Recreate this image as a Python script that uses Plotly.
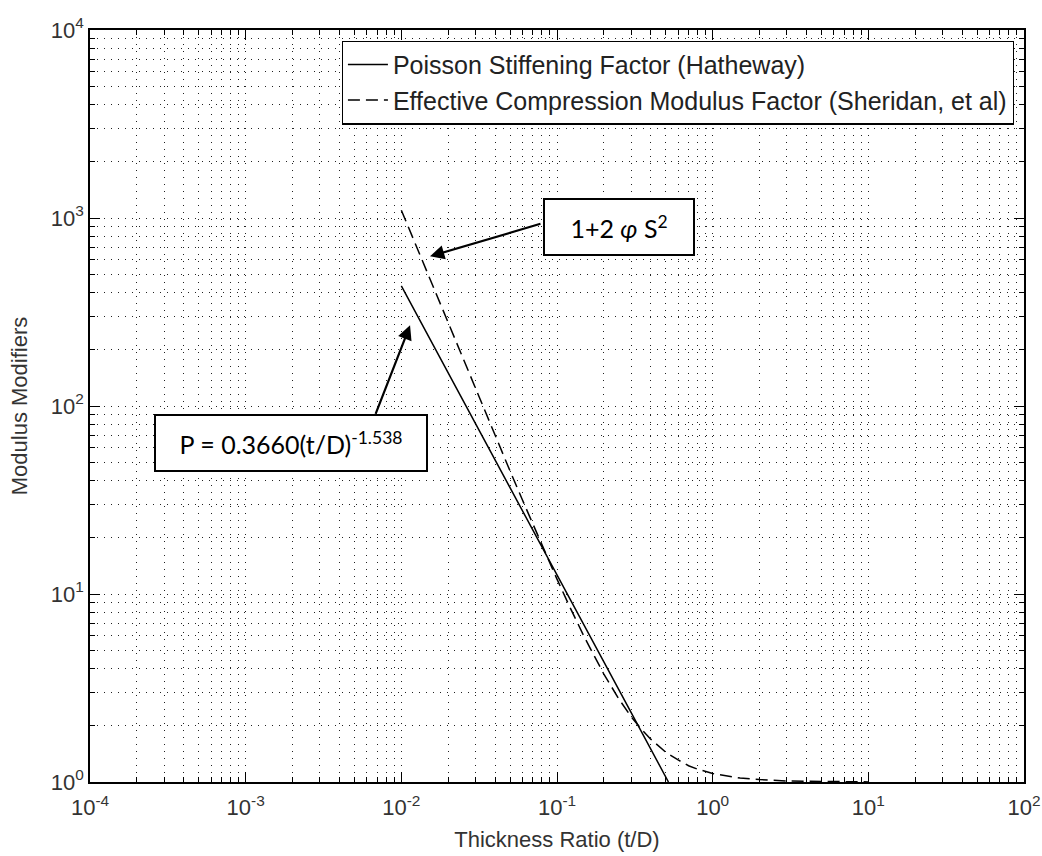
import plotly.graph_objects as go

# ---- data ----
td_poisson = [0.01, 0.012, 0.015, 0.02, 0.025, 0.03, 0.04, 0.05, 0.06, 0.08, 0.1,
              0.12, 0.15, 0.2, 0.25, 0.3, 0.35, 0.4, 0.45, 0.5, 0.52]
poisson_vals = [436, 329, 234, 150, 106, 80.5, 51.7, 36.7, 27.7, 17.8, 12.6,
                9.55, 6.77, 4.35, 3.09, 2.33, 1.84, 1.50, 1.25, 1.06, 1.0]

td_sheridan = [0.01, 0.012, 0.015, 0.02, 0.025, 0.03, 0.04, 0.05, 0.06, 0.08, 0.1,
               0.12, 0.15, 0.2, 0.25, 0.3, 0.35, 0.4, 0.5, 0.6, 0.7, 0.8, 1.0,
               1.5, 2, 3, 5, 7, 10]
sheridan_vals = [1100, 764, 490, 276, 177, 123, 69.8, 45, 31.6, 18.2, 12,
                 8.64, 5.89, 3.75, 2.76, 2.22, 1.90, 1.69, 1.44, 1.31, 1.22, 1.17, 1.11,
                 1.05, 1.03, 1.012, 1.004, 1.002, 1.001]

x_exps = [-4, -3, -2, -1, 0, 1, 2]
y_exps = [0, 1, 2, 3, 4]
x_ticktext = ["10<sup>%d</sup>" % e for e in x_exps]
y_ticktext = ["10<sup>%d</sup>" % e for e in y_exps]

legend_names = ["Poisson Stiffening Factor (Hatheway)",
                "Effective Compression Modulus Factor (Sheridan, et al)"]

# ---- figure ----
fig = go.Figure()
fig.add_trace(go.Scatter(x=td_poisson, y=poisson_vals, mode="lines",
                         name=legend_names[0], legendgroup="a",
                         line=dict(color="black", width=1.5)))
fig.add_trace(go.Scatter(x=td_sheridan, y=sheridan_vals, mode="lines",
                         name=legend_names[1], legendgroup="b",
                         line=dict(color="black", width=1.5, dash="12px,6px")))

x_minor = [m * 10.0 ** e for e in x_exps[:-1] for m in range(2, 10)]
y_minor = [m * 10.0 ** e for e in y_exps[:-1] for m in range(2, 10)]

grid_dash = "1px,6px"
tick_font = dict(family="Liberation Sans, Arial, sans-serif", size=22, color="#333")
title_font = dict(family="Liberation Sans, Arial, sans-serif", size=22, color="#333")
axis_common = dict(
    type="log", showline=True, linecolor="black", linewidth=1.5, mirror="allticks",
    ticks="inside", ticklen=10, tickwidth=1.2, tickcolor="black",
    showgrid=True, gridcolor="#222", griddash=grid_dash, gridwidth=1,
    tickfont=tick_font, zeroline=False, automargin=False,
)

fig.update_xaxes(
    **axis_common,
    range=[-4, 2], tickmode="array",
    tickvals=[10.0 ** e for e in x_exps], ticktext=x_ticktext,
    ticklabelstandoff=5,
    minor=dict(tickmode="array", tickvals=x_minor, ticks="inside", ticklen=5,
               tickcolor="black", showgrid=True, gridcolor="#222",
               griddash=grid_dash, gridwidth=1),
    title=dict(text="Thickness Ratio (t/D)", standoff=12, font=title_font),
)
fig.update_yaxes(
    **axis_common,
    range=[0, 4], tickmode="array",
    tickvals=[10.0 ** e for e in y_exps], ticktext=y_ticktext,
    minor=dict(tickmode="array", tickvals=y_minor, ticks="inside", ticklen=5,
               tickcolor="black", showgrid=True, gridcolor="#222",
               griddash=grid_dash, gridwidth=1),
    title=dict(text="Modulus Modifiers", standoff=17, font=title_font),
)

fig.update_layout(
    width=1042, height=856,
    margin=dict(l=90, r=18, t=30, b=74),
    paper_bgcolor="white", plot_bgcolor="white",
    showlegend=True,
    legend=dict(x=0.989, y=0.986, xanchor="right", yanchor="top",
                bgcolor="white", bordercolor="black", borderwidth=1.2,
                tracegroupgap=0, itemwidth=40,
                font=dict(family="Liberation Sans, Arial, sans-serif", size=25, color="#222")),
)

ann_font = dict(family="Lato, Open Sans, sans-serif", size=25, color="black")

# arrows (head in data coords, tail offset in pixels)
fig.add_annotation(x=-1.816, y=2.796, xref="x", yref="y", text="",
                   showarrow=True, ax=112, ay=-33, arrowhead=2, arrowsize=1.3,
                   arrowwidth=2.2, arrowcolor="black")
fig.add_annotation(x=-1.944, y=2.429, xref="x", yref="y", text="",
                   showarrow=True, ax=-35, ay=90, arrowhead=2, arrowsize=1.3,
                   arrowwidth=2.2, arrowcolor="black")

# text boxes
fig.add_annotation(x=0.566, y=0.738, xref="paper", yref="paper",
                   xanchor="center", yanchor="middle",
                   text="1+2 <i>φ</i> S<sup>2</sup>", showarrow=False,
                   font=ann_font, bgcolor="white", bordercolor="black", borderwidth=2,
                   width=128, height=34, borderpad=10, align="center")
fig.add_annotation(x=0.2157, y=0.4505, xref="paper", yref="paper",
                   xanchor="center", yanchor="middle",
                   text="P = 0.3660(t/D)<sup>-1.538</sup>", showarrow=False,
                   font=ann_font, bgcolor="white", bordercolor="black", borderwidth=2,
                   width=250, height=34, borderpad=10, align="center")

fig.write_html(
    "out.html",
    config={"displayModeBar": False},
    post_script="document.body.style.margin='0';document.body.style.overflow='hidden';",
)
